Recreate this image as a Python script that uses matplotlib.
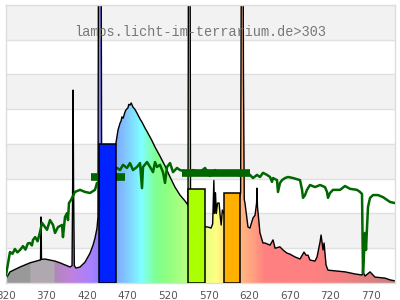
import numpy as np
import matplotlib
matplotlib.use("Agg")
import matplotlib.pyplot as plt
from matplotlib.colors import LinearSegmentedColormap

# lamp spectrum (nm, relative value); lines above 8 run off the top
spec_nm = [320, 324.9, 337.3, 349.6, 362.0, 362.6, 363.2, 363.8, 368, 380.5, 386.6,
           392.8, 399, 401.5, 402.3, 402.8, 403.3, 404.3, 406.4, 411.3, 417.5, 423.7,
           427.4, 429.8, 432.3, 433.5, 434.3, 437.2, 438.0, 440, 450, 455.7, 458.2,
           460.7, 462, 463, 464.5, 466.8, 468, 470.5, 471.5, 473, 474.5, 476.7, 479,
           481.6, 485.4, 488, 491.5, 494, 497.7, 500, 503.9, 510, 516.2, 522.4, 528.5,
           534.7, 540.9, 544.6, 545.3, 547.0, 547.7, 555, 564.7, 569.2, 573, 575,
           576.5, 577.3, 578.5, 579.5, 581, 583, 584, 585.5, 587, 589, 600, 608, 609.5,
           610.2, 610.7, 612.3, 613, 614, 614.9, 618.6, 621, 624.8, 627.3, 629.2,
           629.7, 630.3, 633.4, 635.9, 637.1, 639.6, 645.8, 649.5, 652, 658, 661.8,
           666.7, 670.4, 676.6, 682.8, 687.7, 690.2, 692.7, 695.1, 701.3, 703.8,
           707.5, 708.8, 711.2, 712.5, 714.9, 717.3, 726, 738.4, 750.7, 759.3, 760.5,
           763, 769.2, 775.3, 787.7, 793.8, 800]
spec_val = [0.12, 0.32, 0.46, 0.58, 0.66, 0.66, 1.90, 0.68, 0.69, 0.63, 0.58,
            0.52, 0.46, 0.5, 3.0, 5.55, 3.0, 0.5, 0.43, 0.46, 0.60, 0.86,
            1.09, 1.29, 1.58, 1.9, 12, 12, 3.5, 2.5, 3.6, 4.03, 4.40,
            4.60, 4.66, 4.78, 4.74, 4.92, 4.98, 5.04, 5.14, 5.12, 5.18, 5.06, 5.0,
            4.89, 4.72, 4.62, 4.46, 4.36, 4.20, 4.10, 3.91, 3.65, 3.37, 3.05, 2.76,
            2.53, 2.36, 2.24, 12, 12, 2.2, 1.9, 1.62, 1.61, 1.58, 1.7,
            2.95, 2.0, 2.6, 2.0, 2.3, 2.3, 2.0, 1.67, 2.1, 2.0, 2.3, 2.45, 2.6,
            8, 12, 12, 6, 2.4, 2.3, 1.61, 1.58, 1.87, 1.95, 2.3,
            2.73, 2.2, 1.44, 1.24, 1.15, 1.15, 1.09, 1.24, 1.0, 1.04, 0.95,
            0.86, 0.83, 0.75, 0.69, 0.89, 0.80, 0.80, 0.66, 0.63, 0.75,
            1.18, 1.38, 0.95, 1.15, 0.52, 0.37, 0.35, 0.32, 0.26, 0.23, 0.32,
            0.20, 0.32, 0.17, 0.14, 0.09, 0.06]

# reference spectrum (green)
ref_nm = [320, 324.9, 328, 331, 334, 337.3, 341, 344, 347, 349.6, 352, 353.3, 356,
          359, 362.0, 364.4, 370.6, 374.3, 378.0, 380.5,
          384.2, 389.1, 390.3, 392.8, 395.3, 396.5, 397.7, 400.2, 405.1, 411.3, 417.5,
          423.7, 429.8, 432.3, 440, 450, 457.0, 460.7, 464.4, 469.3, 473.0, 476.7,
          481.7, 485.4, 487.8, 489.1, 494.0, 497.7, 501.4, 503.9, 506.3, 510.0, 513.7,
          516.2, 518.7, 522.4, 526.1, 531.0, 534.7, 543.4, 550.8, 559.4, 565.6, 571.7,
          577.9, 584.1, 590.2, 596.4, 602.6, 608.8, 614.9, 621.1, 624.8, 629.7, 633.4,
          637.1, 642.1, 645.8, 648.2, 649.5, 654.4, 655.6, 658.1, 660.6, 664.3, 668.0,
          674.2, 682.8, 685.3, 686.5, 689.0, 691.4, 695.1, 701.3, 707.5, 713.6, 716.1,
          717.3, 719.8, 723.5, 732.2, 738.3, 744.5, 753.1, 756.8, 759.3, 760.5, 761.8,
          763.0, 764.2, 765.5, 766.7, 769.2, 772.9, 779.0, 785.2, 790.2, 793.9, 800]
ref_val = [0.23, 0.89, 0.84, 0.98, 0.88, 0.95, 1.06, 0.96, 1.14, 1.15, 1.08, 1.24, 1.32,
           1.2, 1.47, 1.73, 1.53, 1.81, 1.67, 1.44,
           1.61, 1.67, 1.32, 1.90, 2.01, 1.81, 2.30, 2.39, 2.62, 2.68, 2.62,
           2.59, 2.68, 2.88, 2.8, 3.2, 3.31, 3.25, 3.40, 3.31, 3.45, 3.25,
           3.34, 3.45, 2.73, 3.34, 3.48, 3.34, 3.19, 3.48, 3.34, 3.40, 3.19,
           2.88, 3.34, 3.45, 3.19, 3.31, 3.25, 3.19, 3.25, 3.19, 3.31, 3.08,
           3.25, 3.14, 3.22, 3.11, 3.19, 3.08, 3.19, 3.11, 3.02, 3.11, 3.05,
           3.17, 3.11, 3.05, 2.91, 3.02, 2.96, 2.62, 2.88, 2.96, 3.02, 3.05,
           3.02, 2.96, 2.68, 2.45, 2.53, 2.68, 2.82, 2.76, 2.82, 2.76, 2.62,
           2.45, 2.59, 2.68, 2.68, 2.79, 2.71, 2.68, 2.62, 2.56, 0.29, 0.86,
           1.44, 0.95, 1.61, 2.19, 2.45, 2.53, 2.53, 2.47, 2.39, 2.33, 2.30]

# thick green band segments
band_lo = [425, 537]
band_hi = [467, 621]
band_val = [3.04, 3.17]

# bars
bar_lo = [435, 545, 589.5]
bar_hi = [455.5, 565, 609]
bar_h = [4.0, 2.71, 2.6]
bar_colors = ["#0022ff", "#aaff00", "#ffb000"]

xticks = [320, 370, 420, 470, 520, 570, 620, 670, 720, 770]

# wavelength -> fill colour
cstops = [(320, "#999999"), (349.9, "#999999"), (350, "#b0a8b0"), (380, "#b0a8b0"),
          (380.1, "#b088b8"), (400, "#c080e0"), (425, "#a880ff"), (437, "#8080ff"),
          (455, "#80a8ff"), (465, "#80c0ff"), (487, "#80ffff"), (505, "#80ff90"),
          (520, "#90ff80"), (540, "#b0ff80"), (555, "#d0ff80"), (570, "#f0ff80"),
          (580, "#ffff80"), (590, "#ffe080"), (605, "#ffc080"), (615, "#ffb080"),
          (625, "#ffa080"), (640, "#ff8080"), (700, "#ff8080"), (740, "#f08080"),
          (800, "#c88080")]
cmap = LinearSegmentedColormap.from_list(
    "spec", [((w - 320) / 480.0, c) for w, c in cstops])

fig = plt.figure(figsize=(4, 3), dpi=100)
ax = fig.add_axes([0.015, 0.0567, 0.9725, 0.9267])
ax.set_xlim(320, 800)
ax.set_ylim(0, 8)

for k in range(1, 8, 2):
    ax.axhspan(k, k + 1, color="#f2f2f2", zorder=0, lw=0)
for k in range(1, 8):
    ax.axhline(k, color="#e0e0e0", lw=1, zorder=0.5)

poly = ax.fill_between(spec_nm, spec_val, 0, facecolor="none", edgecolor="none")
grad = np.linspace(320, 800, 960).reshape(1, -1)
im = ax.imshow(grad, cmap=cmap, vmin=320, vmax=800, extent=[320, 800, 0, 8],
               aspect="auto", origin="lower", zorder=1, interpolation="bilinear")
im.set_clip_path(poly.get_paths()[0], transform=ax.transData)
ax.plot(spec_nm, spec_val, color="black", lw=1.0, zorder=2)

ax.plot(ref_nm, ref_val, color="#006600", lw=1.8, zorder=3)
for lo, hi, v in zip(band_lo, band_hi, band_val):
    ax.hlines(v, lo, hi, color="#006600", lw=5.5, zorder=3)

for lo, hi, h, c in zip(bar_lo, bar_hi, bar_h, bar_colors):
    ax.bar((lo + hi) / 2, h, width=hi - lo, color=c, edgecolor="black", lw=1.1, zorder=4)

ax.text(0.499, 0.903, "lamps.licht-im-terrarium.de>303", transform=ax.transAxes,
        ha="center", va="center", family="Liberation Mono", fontsize=9.8,
        color="#777777", zorder=5)

ax.set_xticks(xticks)
ax.set_xticklabels([str(t) for t in xticks])
ax.tick_params(axis="x", length=0, pad=6, labelsize=7.5, labelcolor="#555555")
ax.set_yticks([])
for s in ax.spines.values():
    s.set_color("#dddddd")
    s.set_linewidth(1)

fig.savefig("out.png", dpi=100)
